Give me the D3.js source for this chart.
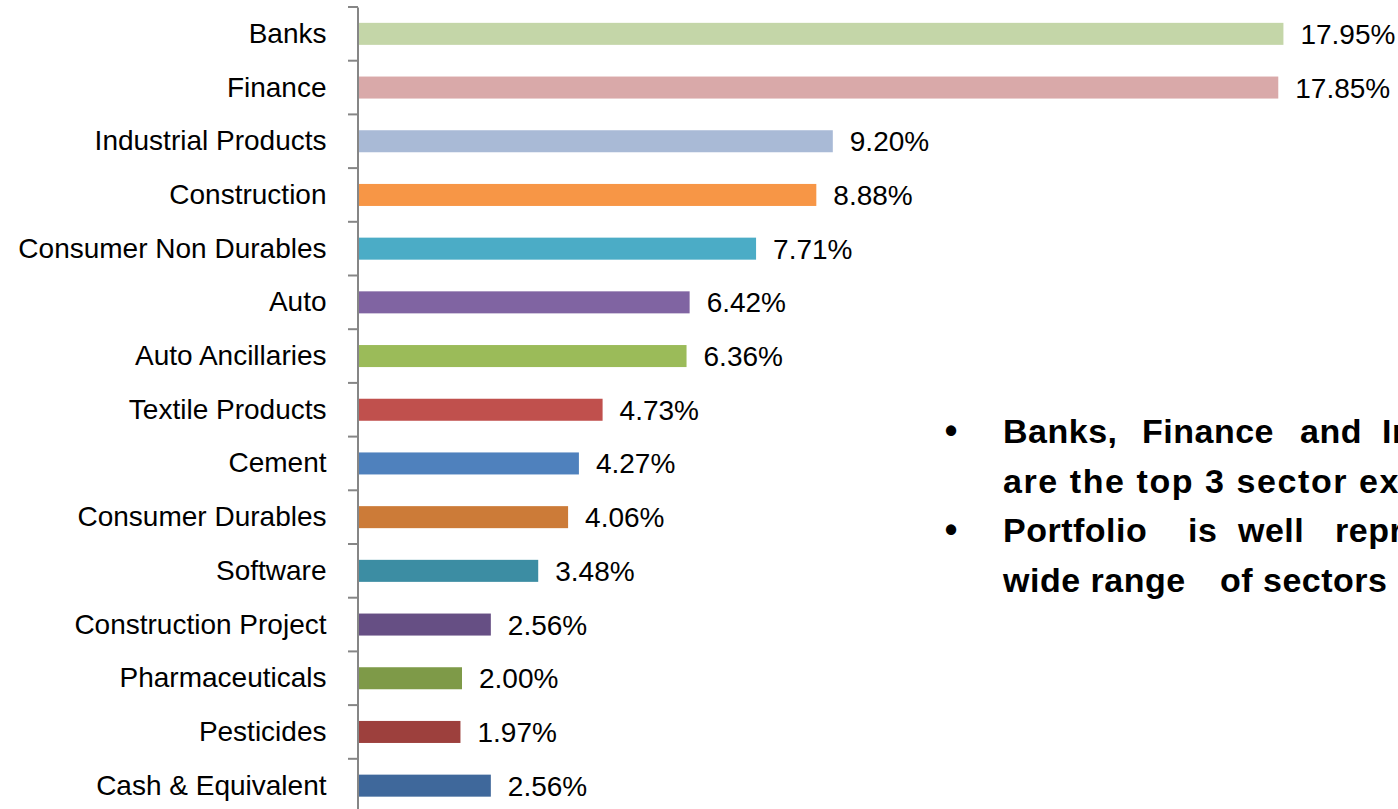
<!DOCTYPE html>
<head>
   <meta charset="utf-8">
   <script src="https://d3js.org/d3.v7.min.js"></script>
   <style>
      body { margin: 0; background: #ffffff; }
      text {
         font-family: "Liberation Sans", Arial, sans-serif;
         font-size: 28px;
         fill: #000000;
      }
      .axis path.domain { stroke: #868686; stroke-width: 2; }
      .axis text { font-size: 28px; }
      text.note { font-size: 34px; font-weight: 700; letter-spacing: 0.5px; }
      text.bullet { font-size: 36px; font-weight: 700; }
   </style>
</head>

<body>
   <script>
      const width = 1398;
      const height = 809;

      // sector exposure, % of portfolio (top to bottom as shown)
      const sectors = ['Banks', 'Finance', 'Industrial Products', 'Construction', 'Consumer Non Durables',
         'Auto', 'Auto Ancillaries', 'Textile Products', 'Cement', 'Consumer Durables', 'Software',
         'Construction Project', 'Pharmaceuticals', 'Pesticides', 'Cash & Equivalent'];
      const weights = [17.95, 17.85, 9.20, 8.88, 7.71, 6.42, 6.36, 4.73, 4.27, 4.06, 3.48, 2.56, 2.00, 1.97, 2.56];
      const colours = ['#c4d6a8', '#d9a9a9', '#a9bad6', '#f79646', '#4bacc6', '#8064a2', '#9bbb59', '#c0504d',
         '#4f81bd', '#cc7b38', '#3c8da3', '#664f84', '#7e9a48', '#9d403d', '#3f689b'];

      const data = sectors.map((s, i) => ({ name: s, value: weights[i], colour: colours[i] }));

      const svg = d3.select('body').append('svg')
         .attr('width', width)
         .attr('height', height);

      const x = d3.scaleLinear()
         .domain([0, 20])
         .range([359, 1389]);

      const y = d3.scaleBand()
         .domain(sectors)
         .range([7, 7 + sectors.length * 53.7])
         .paddingInner(0.59)
         .paddingOuter(0.295);

      // category axis
      const yAxis = d3.axisLeft(y)
         .tickSize(0)
         .tickSizeOuter(0)
         .tickPadding(31);

      svg.append('g')
         .attr('class', 'axis')
         .attr('transform', 'translate(357.5,0)')
         .call(yAxis);

      // tick marks between categories, like the spreadsheet does
      const gap = (y.step() - y.bandwidth()) / 2;
      const bounds = [y(sectors[0]) - gap].concat(sectors.map(s => y(s) + y.bandwidth() + gap));
      svg.append('g').selectAll('line')
         .data(bounds)
         .enter()
         .append('line')
         .attr('x1', 348)
         .attr('x2', 358)
         .attr('y1', d => d)
         .attr('y2', d => d)
         .style('stroke', '#868686')
         .style('stroke-width', 2);

      svg.selectAll('rect.bar')
         .data(data)
         .enter()
         .append('rect')
         .attr('class', 'bar')
         .attr('x', x(0))
         .attr('y', d => y(d.name))
         .attr('width', d => x(d.value) - x(0))
         .attr('height', y.bandwidth())
         .style('fill', d => d.colour);

      svg.selectAll('text.valueLabel')
         .data(data)
         .enter()
         .append('text')
         .attr('class', 'valueLabel')
         .attr('x', d => x(d.value) + 17)
         .attr('y', d => y(d.name) + y.bandwidth() / 2 + 10)
         .text(d => d.value.toFixed(2) + '%');

      // bullet notes on the right (justified text, cut at the page edge)
      const notes = [
         { y: 443, words: [['Banks,', 1003], ['Finance', 1142], ['and', 1300], ['Industrial', 1382]], bullet: true },
         { y: 493, words: [['are the top 3 sector ex', 1003, 396]] },
         { y: 542, words: [['Portfolio', 1003], ['is', 1188], ['well', 1238], ['represented', 1335]], bullet: true },
         { y: 592, words: [['wide range', 1003], ['of sectors', 1220]] }
      ];

      notes.forEach(n => {
         if (n.bullet) {
            svg.append('text')
               .attr('class', 'bullet')
               .attr('x', 951)
               .attr('y', n.y)
               .style('text-anchor', 'middle')
               .text('•');
         }
         n.words.forEach(w => {
            const t = svg.append('text')
               .attr('class', 'note')
               .attr('x', w[1])
               .attr('y', n.y)
               .text(w[0]);
            if (w[2]) t.attr('textLength', w[2]).attr('lengthAdjust', 'spacing');
         });
      });
   </script>
</body>
